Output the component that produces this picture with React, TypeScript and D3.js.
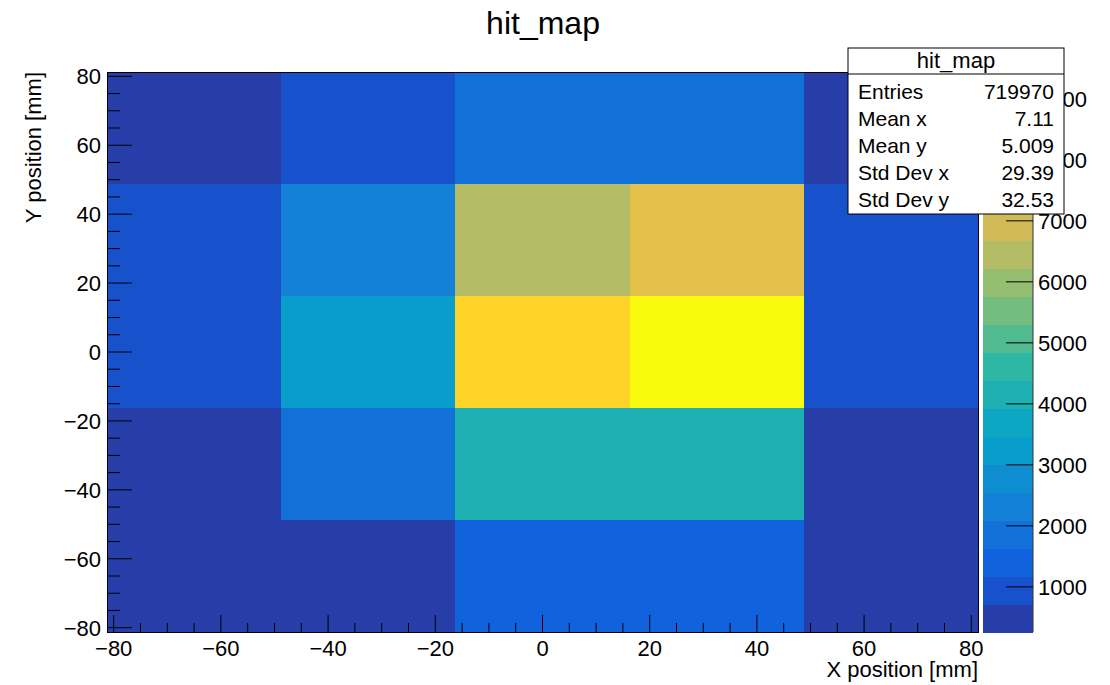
import React from "react";
import * as d3 from "d3";

// bin edges (mm) and bin contents, rows listed from top (high y) to bottom
const xEdges = [-81.25, -48.75, -16.25, 16.25, 48.75, 81.25];
const yEdges = [81.25, 48.75, 16.25, -16.25, -48.75, -81.25];
const row1 = [380, 980, 1850, 1880, 420];
const row2 = [1000, 2300, 6400, 7350, 950];
const row3 = [1020, 3250, 8300, 9440, 980];
const row4 = [450, 1900, 4150, 4200, 470];
const row5 = [260, 560, 1400, 1420, 300];
const rows = [row1, row2, row3, row4, row5];

const xTicks = [-80, -60, -40, -20, 0, 20, 40, 60, 80];
const yTicks = [-80, -60, -40, -20, 0, 20, 40, 60, 80];
const zTicks = [1000, 2000, 3000, 4000, 5000, 6000, 7000, 8000, 9000];

const statLabels = ["Entries", "Mean x", "Mean y", "Std Dev x", "Std Dev y"];
const statValues = ["719970", "7.11", "5.009", "29.39", "32.53"];

// ROOT kBird palette stops
const birdStops = [0, 0.125, 0.25, 0.375, 0.5, 0.625, 0.75, 0.875, 1];
const birdR = [0.2082, 0.0592, 0.078, 0.0232, 0.1802, 0.5301, 0.8186, 0.9956, 0.9764];
const birdG = [0.1664, 0.3599, 0.5041, 0.6419, 0.7178, 0.7492, 0.7328, 0.7862, 0.9832];
const birdB = [0.5293, 0.8684, 0.8385, 0.7914, 0.6425, 0.4662, 0.3499, 0.1968, 0.0539];

const nContours = 20;
const font = "'Liberation Sans', Arial, Helvetica, sans-serif";

const rScale = d3.scaleLinear().domain(birdStops).range(birdR);
const gScale = d3.scaleLinear().domain(birdStops).range(birdG);
const bScale = d3.scaleLinear().domain(birdStops).range(birdB);

const bandColor = (k: number) => {
  const idx = Math.floor(((k + 0.99) * 255) / nContours);
  const f = Math.min(idx, 254) / 254;
  return d3.rgb(rScale(f) * 255, gScale(f) * 255, bScale(f) * 255).formatHex();
};

const minus = (v: number) => (v < 0 ? "\u2212" + Math.abs(v) : String(v));

const App: React.FC = () => {
  const frame = { left: 107, right: 978, top: 72, bottom: 632 };
  const bar = { left: 983, right: 1033 };

  const x = d3.scaleLinear().domain([-81.25, 81.25]).range([frame.left, frame.right]);
  const y = d3.scaleLinear().domain([-81.25, 81.25]).range([frame.bottom, frame.top]);

  const all = rows.flat();
  const [zmin, zmax] = d3.extent(all) as [number, number];
  const z = d3.scaleLinear().domain([zmin, zmax]).range([frame.bottom, frame.top]);
  const dz = (zmax - zmin) / nContours;
  const band = (v: number) => Math.min(nContours - 1, Math.floor(0.01 + (v - zmin) / dz));

  const xMinor = d3.range(-80, 81, 5);
  const yMinor = d3.range(-80, 81, 5);

  const box = { left: 848, right: 1064, top: 48, bottom: 214, sep: 74 };

  return (
    <svg width={1110} height={685} style={{ position: "absolute", left: 0, top: 0, background: "white" }}>
      <text x={543} y={34} textAnchor="middle" fontFamily={font} fontSize={32}>hit_map</text>

      {/* cells */}
      <g shapeRendering="crispEdges">
        {rows.map((row, ri) =>
          row.map((v, ci) => (
            <rect key={`${ri}-${ci}`}
              x={x(xEdges[ci])} y={y(yEdges[ri])}
              width={x(xEdges[ci + 1]) - x(xEdges[ci]) + 0.5}
              height={y(yEdges[ri + 1]) - y(yEdges[ri]) + 0.5}
              fill={bandColor(band(v))} />
          ))
        )}
      </g>

      {/* frame */}
      <rect x={frame.left} y={frame.top} width={frame.right - frame.left} height={frame.bottom - frame.top}
        fill="none" stroke="black" strokeWidth={1} shapeRendering="crispEdges" />

      {/* x axis ticks */}
      {xMinor.map(t => (
        <line key={`xm${t}`} x1={x(t)} x2={x(t)} y1={frame.bottom}
          y2={frame.bottom - (t % 20 === 0 ? 17 : 9)} stroke="black" />
      ))}
      {xTicks.map(t => (
        <text key={`xl${t}`} x={x(t)} y={656} textAnchor="middle" fontFamily={font} fontSize={22}>{minus(t)}</text>
      ))}
      <text x={frame.right} y={677} textAnchor="end" fontFamily={font} fontSize={22}>X position [mm]</text>

      {/* y axis ticks */}
      {yMinor.map(t => (
        <line key={`ym${t}`} x1={frame.left} x2={frame.left + (t % 20 === 0 ? 25 : 13)} y1={y(t)} y2={y(t)} stroke="black" />
      ))}
      {yTicks.map(t => (
        <text key={`yl${t}`} x={101} y={y(t)} dy="0.36em" textAnchor="end" fontFamily={font} fontSize={22}>{minus(t)}</text>
      ))}
      <text transform={`translate(41,${frame.top}) rotate(-90)`} textAnchor="end" fontFamily={font} fontSize={22}>Y position [mm]</text>

      {/* palette */}
      <g shapeRendering="crispEdges">
        {d3.range(nContours).map(k => (
          <rect key={`p${k}`} x={bar.left} width={bar.right - bar.left}
            y={z(zmin + (k + 1) * dz)} height={z(zmin + k * dz) - z(zmin + (k + 1) * dz) + 0.5}
            fill={bandColor(k)} />
        ))}
      </g>
      <line x1={bar.right} x2={bar.right} y1={frame.top} y2={frame.bottom} stroke="#333" strokeWidth={1} />
      {zTicks.map(t => (
        <g key={`z${t}`}>
          <line x1={bar.right - 27} x2={bar.right} y1={z(t)} y2={z(t)} stroke="black" />
          <text x={1038} y={z(t)} dy="0.36em" fontFamily={font} fontSize={22}>{t}</text>
        </g>
      ))}

      {/* stats box */}
      <rect x={box.left} y={box.top} width={box.right - box.left} height={box.bottom - box.top}
        fill="white" stroke="black" strokeWidth={1} />
      <line x1={box.left} x2={box.right} y1={box.sep} y2={box.sep} stroke="black" />
      <text x={(box.left + box.right) / 2} y={68} textAnchor="middle" fontFamily={font} fontSize={22}>hit_map</text>
      {statLabels.map((s, i) => (
        <g key={s}>
          <text x={858} y={99 + i * 27} fontFamily={font} fontSize={21}>{s}</text>
          <text x={1054} y={99 + i * 27} textAnchor="end" fontFamily={font} fontSize={21}>{statValues[i]}</text>
        </g>
      ))}
    </svg>
  );
};

export default App;
